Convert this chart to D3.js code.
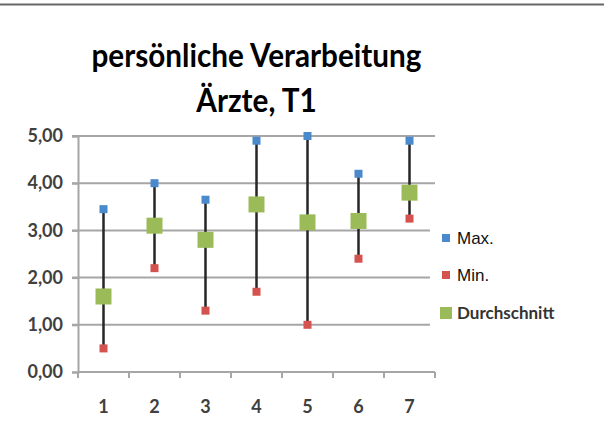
<!DOCTYPE html>
<meta charset="utf-8">
<style>
body { margin: 0; background: #fff; }
.axis path, .axis line { fill: none; stroke: #a6a6a6; stroke-width: 2px; }
.grid line { stroke: #a6a6a6; stroke-width: 2px; }
.tick text { font: bold 18px Lato, sans-serif; fill: #404040; }
</style>
<body>
<svg width="604" height="428"></svg>
<script src="https://d3js.org/d3.v7.min.js"></script>
<script>
var categories = ["1", "2", "3", "4", "5", "6", "7"];
var maxValues = [3.45, 4.0, 3.65, 4.9, 5.0, 4.2, 4.9];
var minValues = [0.5, 2.2, 1.3, 1.7, 1.0, 2.4, 3.25];
var avgValues = [1.6, 3.1, 2.8, 3.55, 3.17, 3.2, 3.8];
var yTicks = [0, 1, 2, 3, 4, 5];
var legendLabels = ["Max.", "Min.", "Durchschnitt"];

var svg = d3.select("svg"),
    margin = {top: 136, right: 169, bottom: 56, left: 78},
    width = +svg.attr("width") - margin.left - margin.right,
    height = +svg.attr("height") - margin.top - margin.bottom;

var colors = {max: "#4a89cc", min: "#d4534f", avg: "#9bbb59"};

// top rule
svg.append("line")
    .attr("x1", 0).attr("x2", 604)
    .attr("y1", 4.5).attr("y2", 4.5)
    .attr("stroke", "#666").attr("stroke-width", 2);

// title (Calibri-like: narrower, so squeeze a bit)
var title = svg.append("text")
    .attr("text-anchor", "middle")
    .attr("transform", "translate(" + (margin.left + width / 2) + ",0) scale(0.9,1)")
    .style("font", "bold 33px Lato, sans-serif")
    .attr("fill", "#000");
title.append("tspan").attr("x", 0).attr("y", 67).text("persönliche Verarbeitung");
title.append("tspan").attr("x", 0).attr("y", 112).text("Ärzte, T1");

var x = d3.scaleBand().domain(categories).range([0, width]).padding(0);
var y = d3.scaleLinear().domain([0, 5]).range([height, 0]);

var g = svg.append("g")
    .attr("transform", "translate(" + margin.left + "," + margin.top + ")");

// gridlines
g.append("g")
    .attr("class", "grid")
  .selectAll("line")
  .data(yTicks.filter(function(d) { return d > 0; }))
  .enter().append("line")
    .attr("x1", -6).attr("x2", width)
    .attr("y1", function(d) { return y(d); })
    .attr("y2", function(d) { return y(d); });

// y axis
g.append("g")
    .attr("class", "axis axis--y")
    .call(d3.axisLeft(y).tickValues(yTicks).tickSize(6).tickPadding(9)
      .tickFormat(function(d) { return d3.format(".2f")(d).replace(".", ","); }));

// x axis: ticks at band boundaries, labels at band centres
var xa = g.append("g")
    .attr("class", "axis axis--x")
    .attr("transform", "translate(0," + height + ")");
xa.append("line").attr("x1", 0).attr("x2", width);
xa.selectAll(".bt")
    .data(categories.concat(["end"]))
  .enter().append("line")
    .attr("class", "bt")
    .attr("x1", function(d, i) { return i * x.bandwidth(); })
    .attr("x2", function(d, i) { return i * x.bandwidth(); })
    .attr("y1", 0).attr("y2", 6);
xa.selectAll(".lbl")
    .data(categories)
  .enter().append("text")
    .attr("class", "lbl")
    .attr("x", function(d) { return x(d) + x.bandwidth() / 2; })
    .attr("y", 41)
    .attr("text-anchor", "middle")
    .style("font", "bold 18px Lato, sans-serif")
    .attr("fill", "#404040")
    .text(function(d) { return d; });

// high-low lines
var cx = function(d, i) { return x(categories[i]) + x.bandwidth() / 2; };
g.selectAll(".hilo")
    .data(categories)
  .enter().append("line")
    .attr("class", "hilo")
    .attr("x1", cx).attr("x2", cx)
    .attr("y1", function(d, i) { return y(maxValues[i]); })
    .attr("y2", function(d, i) { return y(minValues[i]); })
    .attr("stroke", "#262626").attr("stroke-width", 2.5);

function squares(values, size, color) {
  g.selectAll(null)
      .data(values)
    .enter().append("rect")
      .attr("x", function(d, i) { return cx(d, i) - size / 2; })
      .attr("y", function(d) { return y(d) - size / 2; })
      .attr("width", size).attr("height", size)
      .attr("fill", color);
}
squares(maxValues, 8, colors.max);
squares(minValues, 8, colors.min);
squares(avgValues, 16, colors.avg);

// legend
var legend = svg.append("g");
legend.append("rect")
    .attr("x", 430).attr("y", 215).attr("width", 150).attr("height", 120)
    .attr("fill", "#fff");
var ly = [238, 275, 313];
var lcol = [colors.max, colors.min, colors.avg];
var lsize = [8, 8, 12];
legendLabels.forEach(function(lbl, i) {
  legend.append("rect")
      .attr("x", 446 - lsize[i] / 2).attr("y", ly[i] - lsize[i] / 2)
      .attr("width", lsize[i]).attr("height", lsize[i])
      .attr("fill", lcol[i]);
  legend.append("text")
      .attr("x", 457).attr("y", ly[i])
      .attr("dy", "0.36em")
      .style("font", i < 2 ? "17px 'Liberation Sans', Arial, sans-serif" : "bold 17px Lato, sans-serif")
      .attr("fill", i < 2 ? "#111" : "#333")
      .text(lbl);
});
</script>
